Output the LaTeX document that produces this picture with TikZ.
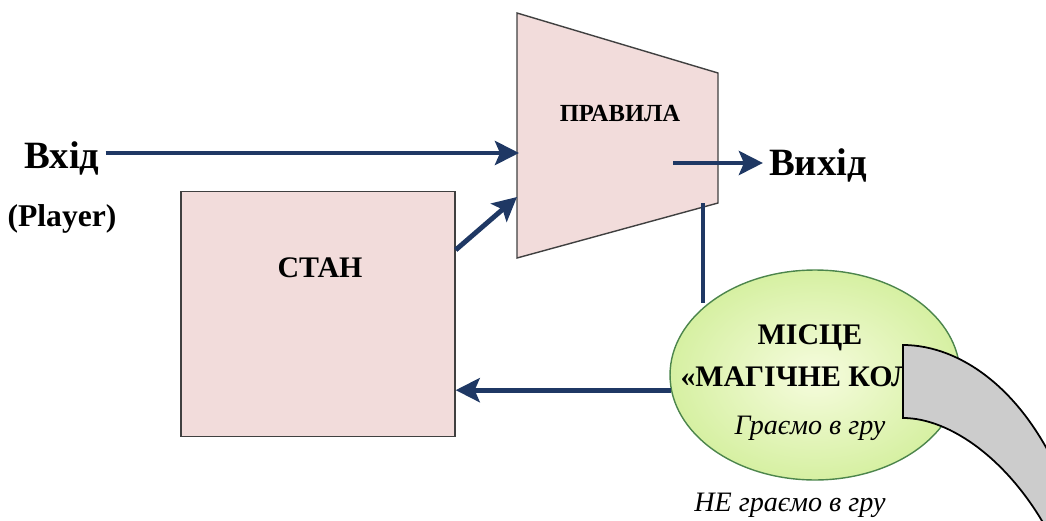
\documentclass[tikz,border=0pt]{standalone}
\usepackage{fontspec}
\setmainfont{Liberation Serif}
\usetikzlibrary{shapes, arrows.meta, positioning, calc}
\definecolor{navy}{RGB}{31,56,100}
\definecolor{rosy}{RGB}{242,220,219}
\definecolor{limein}{RGB}{246,252,222}
\definecolor{limeout}{RGB}{214,240,162}
\tikzstyle{block} = [draw=black!75, fill=rosy, rectangle, line width=0.8pt]
\tikzstyle{link} = [draw=navy, line width=2.8pt]
\tikzstyle{big} = [font=\bfseries\fontsize{22}{24}\selectfont]
\tikzstyle{mid} = [font=\bfseries\fontsize{17}{19}\selectfont]
\tikzstyle{note} = [font=\itshape\fontsize{16}{18}\selectfont]

\begin{document}
\begin{tikzpicture}[x=0.02cm, y=-0.02cm, >={Stealth[length=4.8mm,width=4.8mm,inset=1mm]}]
    \useasboundingbox (0,0) rectangle (1046,521);
    % rules
    \coordinate (r1) at (517,13);
    \coordinate (r2) at (718,73);
    \coordinate (r3) at (718,203);
    \coordinate (r4) at (517,258);
    \coordinate (rin) at (519,153);
    \coordinate (rlow) at (517,197);
    \coordinate (rout) at (673,163);
    \coordinate (rdown) at (703,203);
    \draw [block] (r1) -- (r2) -- (r3) -- (r4) -- cycle;
    \node [font=\bfseries\fontsize{14}{16}\selectfont] (rules) at (620,113) {ПРАВИЛА};
    % state
    \node [block, minimum width=5.48cm, minimum height=4.9cm] (state) at (318,314) {};
    \node [mid] (statetxt) at (320,268) {СТАН};
    % place
    \node [ellipse, draw=black!45!green!40!gray, line width=0.8pt, inner color=limein, outer color=limeout,
           minimum width=5.8cm, minimum height=4.2cm] (place) at (815,375) {};
    \node [mid] (place1) at (810,338) {МІСЦЕ};
    \node [mid] (place2) at (816,377) {«МАГІЧНЕ КОЛО»};
    \node [note] (play) at (810,428) {Граємо в гру};
    \node [note] (noplay) at (790,505) {НЕ граємо в гру};
    % texts
    \node [big] (in) at (62,158) {Вхід};
    \node [font=\bfseries\fontsize{18}{20}\selectfont, below=0.35cm of in] (player) {(Player)};
    \node [big] (out) at (818,165) {Вихід};
    % links
    \draw [->, link] (in.east |- rin) -- (rin);
    \draw [->, link] ($(state.north east)!0.24!(state.south east)$) -- (rlow);
    \draw [->, link] (rout) -- (rout -| out.west);
    \draw [link] (rdown) -- (rdown |- place.146);
    \draw [->, link] (place.186) -- (state.east |- place.186);
    % curved band
    \draw [fill=black!20, line width=1pt] (903,345) .. controls (960,345) and (1030,390) .. (1070,500)
        -- (1050,535) .. controls (1010,460) and (950,418) .. (903,418) -- cycle;
\end{tikzpicture}
\end{document}
